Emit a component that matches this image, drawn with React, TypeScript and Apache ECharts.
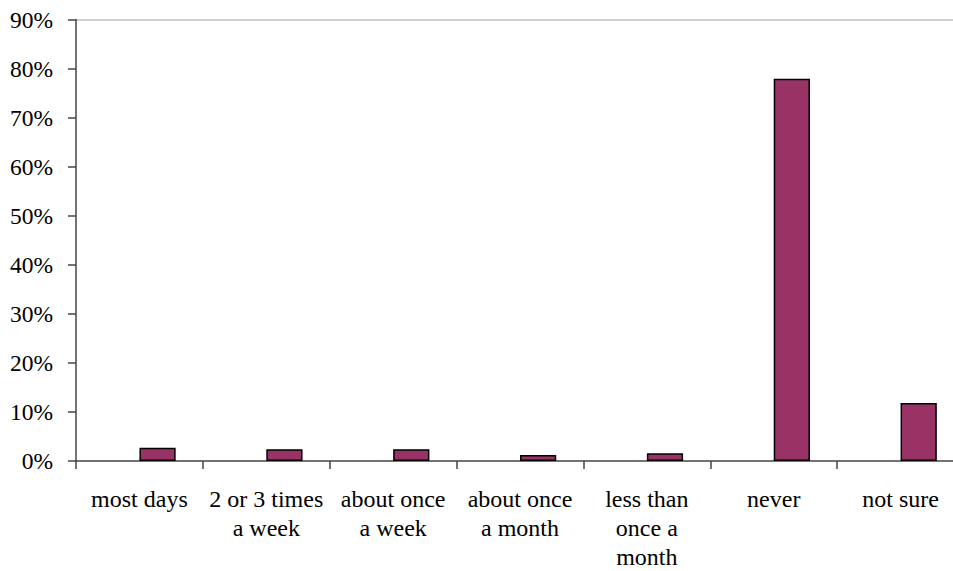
import React, { useEffect, useRef } from "react";
import * as echarts from "echarts";

const categories = [
  "most days",
  "2 or 3 times\na week",
  "about once\na week",
  "about once\na month",
  "less than\nonce a\nmonth",
  "never",
  "not sure",
];
const placeholderValues = [null, null, null, null, null, null, null];
const percentValues = [2.7, 2.4, 2.4, 1.2, 1.6, 77.9, 11.8];
const yTicks = { min: 0, max: 90, interval: 10 };

const FONT = "Liberation Serif, Times New Roman, serif";

export default function App() {
  const ref = useRef<HTMLDivElement>(null);
  useEffect(() => {
    if (!ref.current) return;
    const chart = echarts.init(ref.current, undefined, { renderer: "svg" });
    const nLines = (yTicks.max - yTicks.min) / yTicks.interval + 1;
    const splitColors = Array.from({ length: nLines }, (_, i) =>
      i === nLines - 1 ? "#c0c0c0" : "rgba(0,0,0,0)"
    );
    chart.setOption({
      animation: false,
      backgroundColor: "#ffffff",
      textStyle: { fontFamily: FONT },
      grid: {
        left: 76,
        top: 19.5,
        bottom: 110,
        right: -11,
        containLabel: false,
        outerBoundsMode: "none",
      },
      xAxis: {
        type: "category",
        data: categories,
        axisLine: { show: true, lineStyle: { color: "#444", width: 1.5 } },
        axisTick: { show: true, length: 8, lineStyle: { color: "#444", width: 1.5 } },
        axisLabel: {
          interval: 0,
          margin: 23,
          color: "#000",
          fontSize: 24,
          lineHeight: 29,
          fontFamily: FONT,
        },
      },
      yAxis: {
        type: "value",
        min: yTicks.min,
        max: yTicks.max,
        interval: yTicks.interval,
        axisLine: { show: true, lineStyle: { color: "#444", width: 1.5 } },
        axisTick: { show: true, length: 8, lineStyle: { color: "#444", width: 1.5 } },
        splitLine: { show: true, lineStyle: { color: splitColors, width: 1.5 } },
        axisLabel: {
          formatter: "{value}%",
          margin: 23,
          color: "#000",
          fontSize: 23.5,
          fontFamily: FONT,
        },
      },
      series: [
        {
          type: "bar",
          name: "placeholder",
          data: placeholderValues,
          barGap: "0%",
          barCategoryGap: "42.86%",
          silent: true,
        },
        {
          type: "bar",
          name: "share",
          data: percentValues,
          barGap: "0%",
          barCategoryGap: "42.86%",
          itemStyle: { color: "#993366", borderColor: "#000", borderWidth: 1.5 },
        },
      ],
    });
    return () => chart.dispose();
  }, []);
  return (
    <div
      ref={ref}
      style={{ position: "absolute", left: 0, top: 0, width: 953, height: 571 }}
    />
  );
}
